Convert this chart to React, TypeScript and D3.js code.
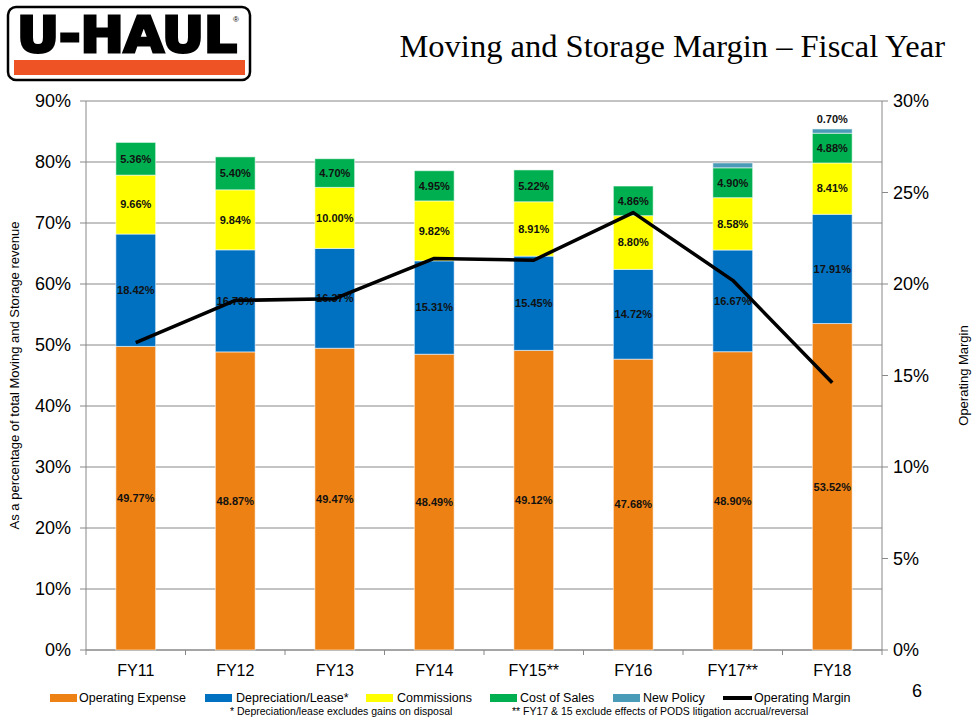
import React from "react";
import * as d3 from "d3";

const categories = ["FY11", "FY12", "FY13", "FY14", "FY15**", "FY16", "FY17**", "FY18"];
const operatingExpense = [49.77, 48.87, 49.47, 48.49, 49.12, 47.68, 48.9, 53.52];
const depreciationLease = [18.42, 16.73, 16.37, 15.31, 15.45, 14.72, 16.67, 17.91];
const commissions = [9.66, 9.84, 10.0, 9.82, 8.91, 8.8, 8.58, 8.41];
const costOfSales = [5.36, 5.4, 4.7, 4.95, 5.22, 4.86, 4.9, 4.88];
const newPolicy = [0, 0, 0, 0, 0, 0, 0.8, 0.7];
const newPolicyLabeled = [false, false, false, false, false, false, false, true];
const operatingMargin = [16.8, 19.1, 19.2, 21.4, 21.3, 23.9, 20.2, 14.6];
const leftTicks = [0, 10, 20, 30, 40, 50, 60, 70, 80, 90];
const rightTicks = [0, 5, 10, 15, 20, 25, 30];

const seriesNames = ["Operating Expense", "Depreciation/Lease*", "Commissions", "Cost of Sales", "New Policy"];
const seriesColors = ["#EE8114", "#0070C0", "#FFFF00", "#00B050", "#4A9BB8"];

const W = 977;
const H = 726;
const left = 86;
const right = 882;
const top = 101;
const bottom = 650;
const FONT = "Arial, 'Liberation Sans', sans-serif";

export default function App() {
  const x = d3.scaleBand<string>().domain(categories).range([left, right]).paddingInner(0.6).paddingOuter(0.3);
  const y = d3.scaleLinear().domain([0, 90]).range([bottom, top]);
  const y2 = d3.scaleLinear().domain([0, 30]).range([bottom, top]);

  const table = categories.map((c, i) => ({
    cat: c,
    s0: operatingExpense[i],
    s1: depreciationLease[i],
    s2: commissions[i],
    s3: costOfSales[i],
    s4: newPolicy[i],
  }));
  const stack = d3.stack<any>().keys(["s0", "s1", "s2", "s3", "s4"]);
  const stacked = stack(table);

  const line = d3
    .line<number>()
    .x((_, i) => (x(categories[i]) as number) + x.bandwidth() / 2)
    .y((d) => y2(d));

  const step = x.step();
  const boundaries = d3.range(categories.length + 1).map((i) => left + i * step);

  const legendItems = [
    { name: seriesNames[0], color: seriesColors[0], sx: 50, tx: 79 },
    { name: seriesNames[1], color: seriesColors[1], sx: 205, tx: 236 },
    { name: seriesNames[2], color: seriesColors[2], sx: 366, tx: 397 },
    { name: seriesNames[3], color: seriesColors[3], sx: 490, tx: 520 },
    { name: seriesNames[4], color: seriesColors[4], sx: 613, tx: 643 },
  ];

  return (
    <svg width={W} height={H} style={{ position: "absolute", left: 0, top: 0, background: "#fff" }} fontFamily={FONT}>
      <rect x={0} y={0} width={W} height={H} fill="#fff" />
      {/* Logo */}
      <rect x={8} y={7} width={242} height={73} rx={8} fill="#fff" stroke="#000" strokeWidth={2.5} />
      <text
        x={17}
        y={52}
        fontSize={50}
        fontWeight="bold"
        fontFamily="'DejaVu Sans', Arial, sans-serif"
        textLength={220}
        lengthAdjust="spacingAndGlyphs"
        fill="#000"
        stroke="#000"
        strokeWidth={3}
      >
        U-HAUL
      </text>
      <text x={233} y={22} fontSize={8} fill="#000">®</text>
      <rect x={14} y={60} width={231} height={15} fill="#EE5326" />

      {/* Title */}
      <text x={945} y={57} textAnchor="end" fontSize={32.5} fontFamily="'Times New Roman', 'Liberation Serif', serif" fill="#000">
        Moving and Storage Margin – Fiscal Year
      </text>

      {/* Gridlines */}
      {leftTicks.map((t) => (
        <line key={"g" + t} x1={left} x2={right} y1={y(t)} y2={y(t)} stroke="#888" strokeWidth={1} />
      ))}
      {/* Left axis */}
      <line x1={left} x2={left} y1={top} y2={bottom} stroke="#888" />
      {leftTicks.map((t) => (
        <g key={"lt" + t}>
          <line x1={left - 6} x2={left} y1={y(t)} y2={y(t)} stroke="#888" />
          <text x={71} y={y(t)} dy="0.35em" textAnchor="end" fontSize={18} fill="#000">
            {t}%
          </text>
        </g>
      ))}
      {/* Right axis */}
      <line x1={right} x2={right} y1={top} y2={bottom} stroke="#888" />
      {rightTicks.map((t) => (
        <g key={"rt" + t}>
          <line x1={right} x2={right + 6} y1={y2(t)} y2={y2(t)} stroke="#888" />
          <text x={893} y={y2(t)} dy="0.35em" textAnchor="start" fontSize={18} fill="#000">
            {t}%
          </text>
        </g>
      ))}
      {/* X axis */}
      <line x1={left} x2={right} y1={bottom} y2={bottom} stroke="#888" />
      {boundaries.map((b, i) => (
        <line key={"xt" + i} x1={b} x2={b} y1={bottom} y2={bottom + 5} stroke="#888" />
      ))}
      {categories.map((c) => (
        <text key={"xl" + c} x={(x(c) as number) + x.bandwidth() / 2} y={676} textAnchor="middle" fontSize={16} fill="#000">
          {c}
        </text>
      ))}

      {/* Axis titles */}
      <text transform={`translate(19,${(top + bottom) / 2}) rotate(-90)`} textAnchor="middle" fontSize={13} fill="#000">
        As a percentage of total Moving and Storage revenue
      </text>
      <text transform={`translate(968,${(top + bottom) / 2}) rotate(-90)`} textAnchor="middle" fontSize={13} fill="#000">
        Operating Margin
      </text>

      {/* Bars */}
      {stacked.map((layer, li) => (
        <g key={"layer" + li}>
          {layer.map((d, i) =>
            d[1] - d[0] > 0 ? (
              <rect
                key={i}
                x={x(categories[i]) as number}
                y={y(d[1])}
                width={x.bandwidth()}
                height={y(d[0]) - y(d[1])}
                fill={seriesColors[li]}
                stroke="#fff"
                strokeOpacity={0.55}
                strokeWidth={1}
              />
            ) : null
          )}
        </g>
      ))}

      {/* Labels */}
      {stacked.map((layer, li) => (
        <g key={"lab" + li}>
          {layer.map((d, i) => {
            const v = d[1] - d[0];
            if (v <= 0) return null;
            const cx = (x(categories[i]) as number) + x.bandwidth() / 2;
            if (li === 4) {
              if (!newPolicyLabeled[i]) return null;
              return (
                <text key={i} x={cx} y={y(d[1]) - 6} textAnchor="middle" fontSize={11} fontWeight="bold" fill="#111">
                  {v.toFixed(2)}%
                </text>
              );
            }
            return (
              <text key={i} x={cx} y={y((d[0] + d[1]) / 2)} dy="0.35em" textAnchor="middle" fontSize={11} fontWeight="bold" fill="#111">
                {v.toFixed(2)}%
              </text>
            );
          })}
        </g>
      ))}

      {/* Operating margin line */}
      <path d={line(operatingMargin) || ""} fill="none" stroke="#000" strokeWidth={3.5} strokeLinejoin="round" />

      {/* Legend */}
      {legendItems.map((it) => (
        <g key={it.name}>
          <rect x={it.sx} y={694} width={27} height={8} fill={it.color} />
          <text x={it.tx} y={698} dy="0.35em" fontSize={12.5} fill="#000">
            {it.name}
          </text>
        </g>
      ))}
      <line x1={723} x2={752} y1={698} y2={698} stroke="#000" strokeWidth={4} />
      <text x={754} y={698} dy="0.35em" fontSize={12.5} fill="#000">
        Operating Margin
      </text>
      <text x={230} y={715} fontSize={10.5} fill="#000">
        * Depreciation/lease excludes gains on disposal
      </text>
      <text x={512} y={715} fontSize={10.5} fill="#000">
        ** FY17 &amp; 15 exclude effects of PODS litigation accrual/reversal
      </text>
      <text x={912} y={697} fontSize={18} fill="#000">
        6
      </text>
    </svg>
  );
}
